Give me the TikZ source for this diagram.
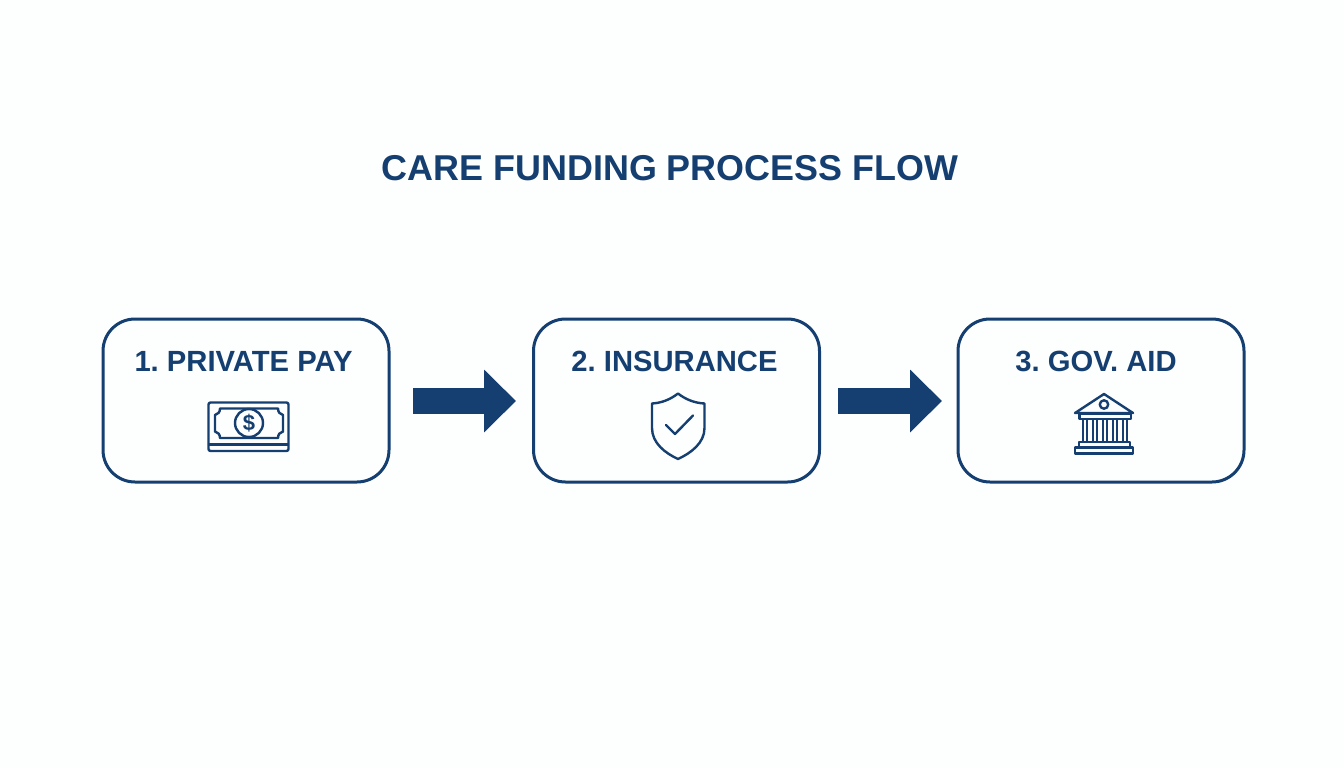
\documentclass[tikz,border=0pt]{standalone}
\usepackage{fontspec}
\setmainfont{Liberation Sans}
\usetikzlibrary{arrows.meta}
\definecolor{navy}{HTML}{143F70}
\definecolor{bgc}{HTML}{FDFEFE}
\tikzset{
  stagebox/.style={draw=navy,line width=3pt,rounded corners=32pt,minimum width=286pt,minimum height=163pt,inner sep=0pt},
  steplabel/.style={text=navy,font=\frenchspacing\fontsize{29.2}{31}\selectfont\bfseries,inner sep=0pt,anchor=base},
  titlelabel/.style={text=navy,font=\fontsize{35.9}{40}\selectfont\bfseries,inner sep=0pt,anchor=base},
  flowarrow/.style={draw=navy,line width=26pt,-{Triangle[length=32pt,width=61pt]},shorten >=0pt},
  icon/.style={draw=navy,line width=2.4pt,line join=round,line cap=round},
}
\begin{document}
\begin{tikzpicture}[x=1pt,y=-1pt]
\useasboundingbox (0,0) rectangle (1344,768);
\fill[bgc] (0,0) rectangle (1344,768);
\node[titlelabel] (title) at (670,180) {CARE FUNDING PROCESS FLOW};
\node[stagebox] (b1) at (246,400.5) {};
\node[stagebox] (b2) at (676.5,400.5) {};
\node[stagebox] (b3) at (1101,400.5) {};
\node[steplabel] (l1) at (243.5,371.5) {1. PRIVATE PAY};
\node[steplabel] (l2) at (674.5,371.5) {2. INSURANCE};
\node[steplabel] (l3) at (1096,371.5) {3. GOV. AID};
\coordinate (a1s) at (413,401); \coordinate (a1e) at (516,401);
\coordinate (a2s) at (838,401); \coordinate (a2e) at (942,401);
\draw[flowarrow] (a1s) -- (a1e);
\draw[flowarrow] (a2s) -- (a2e);
% money icon
\draw[icon,rounded corners=2pt] (208.5,402.5) rectangle (288.5,451);
\draw[icon] (209,444.5) -- (288,444.5);
\draw[icon] (220,408.5) -- (278,408.5) .. controls (278,412) and (280,414.5) .. (283,415)
  -- (283,431.5) .. controls (280,432) and (278,434.5) .. (278,438) -- (220,438)
  .. controls (220,434.5) and (218,432) .. (215,431.5) -- (215,415)
  .. controls (218,414.5) and (220,412) .. (220,408.5) -- cycle;
\draw[icon,fill=bgc] (249,423) circle (14);
\node[text=navy,font=\fontsize{22}{23}\selectfont\bfseries,inner sep=0pt] (dollar) at (249,423) {\$};
% shield icon
\draw[icon] (678,393.5) .. controls (671,399) and (662,403) .. (652,403.5) -- (652,428)
  .. controls (652,443) and (665,453) .. (678,459) .. controls (691,453) and (704.5,443) .. (704.5,428)
  -- (704.5,403.5) .. controls (694,403) and (685,399) .. (678,393.5) -- cycle;
\draw[icon] (666,425) -- (675,434) -- (693,415.5);
% bank icon
\draw[icon] (1104,394) -- (1133,413) -- (1075,413) -- cycle;
\draw[icon] (1104,404.5) circle (4.2);
\draw[icon] (1079.5,413.5) rectangle (1131,419);
\foreach \cx in {1085,1095,1105,1115,1125}{
  \draw[icon,line cap=butt] (\cx-2.2,419) -- (\cx-2.2,442);
  \draw[icon,line cap=butt] (\cx+2.2,419) -- (\cx+2.2,442);
}
\draw[icon] (1079,442) rectangle (1130,447.5);
\draw[icon] (1075,447.5) rectangle (1133,453.5);
\end{tikzpicture}
\end{document}
